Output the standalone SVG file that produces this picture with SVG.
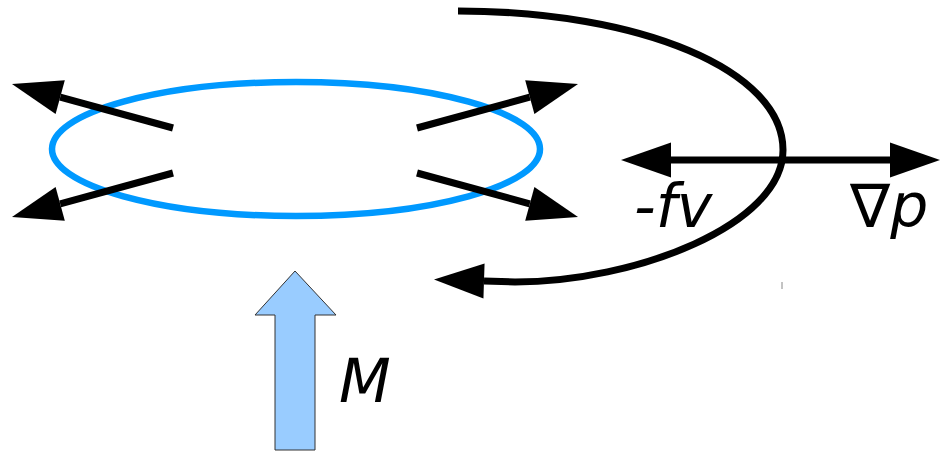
<svg xmlns="http://www.w3.org/2000/svg" width="940" height="453" viewBox="0 0 940 453">
<defs>
<style>
.ln{fill:none;stroke:#000;stroke-width:7}
.lbl{font-family:"DejaVu Sans",sans-serif;font-style:italic;font-size:60px;fill:#000}
</style>
<marker id="ah" markerUnits="userSpaceOnUse" orient="auto-start-reverse" refX="0" refY="0" markerWidth="60" markerHeight="40" viewBox="-2 -20 56 40" overflow="visible">
<path d="M50,0 L0,-17.5 L0,17.5 Z" fill="#000"/>
</marker>
</defs>
<rect width="940" height="453" fill="#fff"/>
<g id="ring">
<ellipse cx="296" cy="149" rx="244" ry="67" fill="none" stroke="#0099ff" stroke-width="6.5"/>
</g>
<g id="mass-arrow">
<path d="M275,450 L275,315 L255,315 L295,271 L336,315 L315,315 L315,450 Z" fill="#99ccff" stroke="#333" stroke-width="1"/>
</g>
<g id="label-M"><text class="lbl" x="339" y="402">M</text></g>
<g id="label-fv"><text class="lbl" x="634" y="227">-fv</text></g>
<g id="label-grad"><text class="lbl" x="850" y="227">∇p</text></g>
<g id="connectors">
<line class="ln" x1="173" y1="128" x2="60.2" y2="97.2" marker-end="url(#ah)"/>
<line class="ln" x1="173" y1="173" x2="60.2" y2="203.8" marker-end="url(#ah)"/>
<line class="ln" x1="417" y1="128" x2="529.8" y2="97.2" marker-end="url(#ah)"/>
<line class="ln" x1="417" y1="173" x2="529.8" y2="203.8" marker-end="url(#ah)"/>
<line class="ln" x1="671" y1="160" x2="890" y2="160" marker-start="url(#ah)" marker-end="url(#ah)"/>
<path class="ln" d="M458,11 C640,11 783,70 783,150 C783,225 635,282 515,282 L484,281" marker-end="url(#ah)"/>
<line x1="782" y1="282" x2="782" y2="289" stroke="#888" stroke-width="1"/>
</g>
</svg>
